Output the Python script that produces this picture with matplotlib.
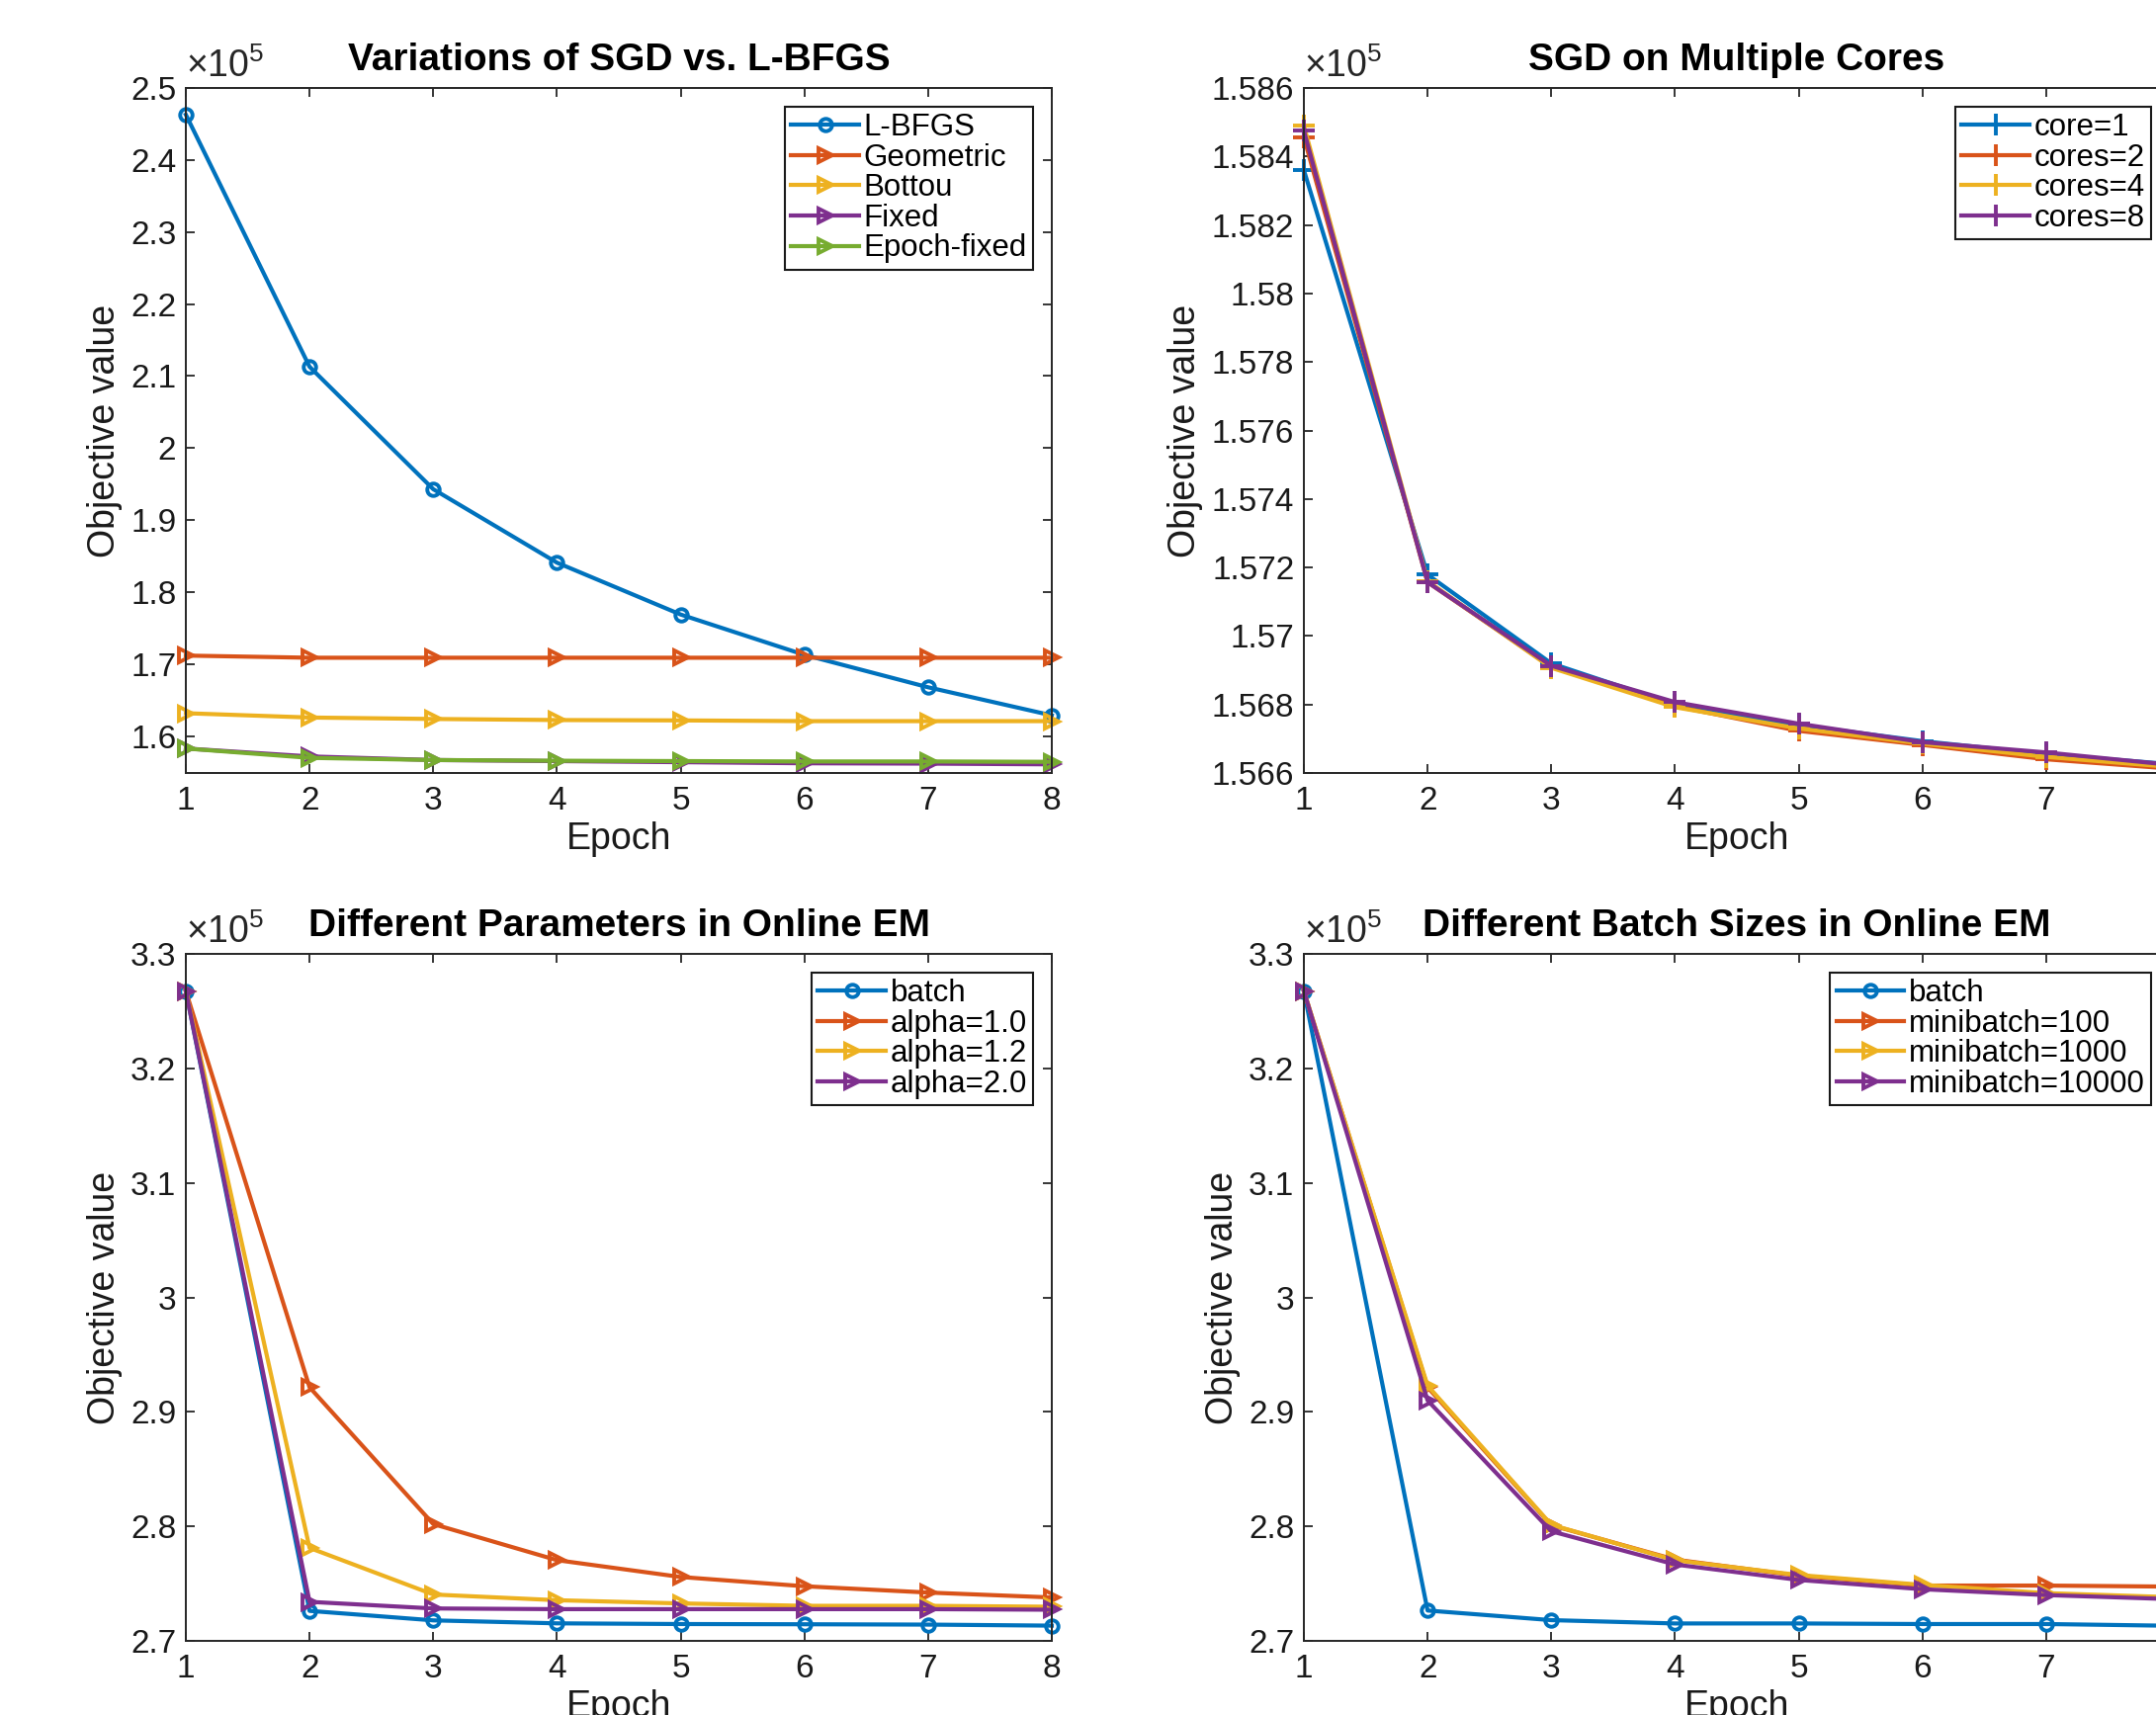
import numpy as np
import matplotlib
matplotlib.use("Agg")
import matplotlib.pyplot as plt
from matplotlib.ticker import FuncFormatter

plt.rcParams["font.family"] = ["Liberation Sans", "DejaVu Sans"]
plt.rcParams["mathtext.fontset"] = "custom"
plt.rcParams["mathtext.rm"] = "Liberation Sans"

W, H, DPI = 2181, 1735, 100

BLUE, RED, YELLOW, PURPLE, GREEN = "#0072BD", "#D95319", "#EDB120", "#7E2F8E", "#77AC30"
AX_COL = "#262626"

EPOCHS = np.arange(1, 9)

# objective values, in units of 1e5
# panel 1: variations of SGD vs L-BFGS
LBFGS = [2.463, 2.113, 1.943, 1.841, 1.769, 1.713, 1.668, 1.629]
GEOMETRIC = [1.712, 1.709, 1.709, 1.709, 1.709, 1.709, 1.709, 1.709]
BOTTOU = [1.632, 1.626, 1.624, 1.6225, 1.622, 1.621, 1.621, 1.621]
FIXED = [1.583, 1.572, 1.567, 1.5655, 1.564, 1.5625, 1.562, 1.561]
EPOCH_FIXED = [1.583, 1.570, 1.567, 1.566, 1.5655, 1.565, 1.565, 1.5645]

# panel 2: SGD on multiple cores
CORE1 = [1.5836, 1.57179, 1.5692, 1.5680, 1.5674, 1.56693, 1.56655, 1.56626]
CORES2 = [1.58456, 1.57157, 1.5691, 1.56795, 1.56723, 1.56682, 1.5664, 1.56613]
CORES4 = [1.5849, 1.5716, 1.56907, 1.56792, 1.5673, 1.56686, 1.56647, 1.56618]
CORES8 = [1.58475, 1.57157, 1.56913, 1.56807, 1.56744, 1.5669, 1.5666, 1.56624]

# panel 3: different parameters in online EM
BATCH = [3.2675, 2.7262, 2.7179, 2.7153, 2.7147, 2.7145, 2.7142, 2.7133]
ALPHA10 = [3.2675, 2.9215, 2.802, 2.7705, 2.7558, 2.7477, 2.7422, 2.7379]
ALPHA12 = [3.2675, 2.7812, 2.7405, 2.7355, 2.7327, 2.7306, 2.7306, 2.7298]
ALPHA20 = [3.2675, 2.7341, 2.7283, 2.7277, 2.7277, 2.7277, 2.7277, 2.7272]

# panel 4: different batch sizes in online EM
BATCH_B = [3.2675, 2.7265, 2.7181, 2.7152, 2.7152, 2.7147, 2.7147, 2.7132]
MB100 = [3.2675, 2.9215, 2.801, 2.7710, 2.7569, 2.7483, 2.7483, 2.7474]
MB1000 = [3.2675, 2.9229, 2.8014, 2.7704, 2.7575, 2.7489, 2.7417, 2.7382]
MB10000 = [3.2675, 2.910, 2.7957, 2.7667, 2.7532, 2.7451, 2.7400, 2.7365]

MARK = {"o": 9, ">": 10.5, "+": 16}


def px_axes(fig, x0, y0, x1, y1):
    return fig.add_axes([x0 / W, 1 - y1 / H, (x1 - x0) / W, (y1 - y0) / H])


def style(ax, title, ylim, yticks, cut_last=False):
    ax.set_xlim(1, 8)
    ax.set_ylim(*ylim)
    ax.set_xticks(EPOCHS)
    # the right-hand panels run past the figure edge, so their "8" is not seen
    ax.set_xticklabels([str(e) if not (cut_last and e == 8) else "" for e in EPOCHS])
    ax.set_yticks(yticks)
    ax.yaxis.set_major_formatter(FuncFormatter(lambda v, p: f"{round(v, 6):g}"))
    ax.tick_params(direction="in", length=6.5, width=1.3, top=True, right=True,
                   labelsize=24, colors=AX_COL, labelcolor="#1a1a1a", pad=7)
    ax.tick_params(axis="x", pad=9)
    for s in ax.spines.values():
        s.set_linewidth(1.4)
        s.set_color(AX_COL)
    ax.set_title(title, fontsize=28, fontweight="bold", pad=13)
    ax.set_xlabel("Epoch", fontsize=27, color="#1a1a1a", labelpad=4)
    ax.set_ylabel("Objective value", fontsize=27, color="#1a1a1a", labelpad=6)
    ax.text(0.0, 1.004, r"$\times\mathregular{10^{5}}$", transform=ax.transAxes,
            fontsize=27, color=AX_COL, ha="left", va="bottom")


def series(ax, ys, color, marker, label):
    ax.plot(EPOCHS, ys, color=color, lw=3, marker=marker, ms=MARK[marker],
            mfc="none", mew=2.8, label=label, clip_on=False)


def legend(ax):
    leg = ax.legend(loc="upper right", fontsize=22.5, fancybox=False, framealpha=1,
                    edgecolor="#1a1a1a", borderaxespad=0.6, handlelength=2.2,
                    handletextpad=0.15, labelspacing=0.02, borderpad=0.2)
    leg.get_frame().set_linewidth(1.5)


fig = plt.figure(figsize=(W / DPI, H / DPI), dpi=DPI)

ax1 = px_axes(fig, 188, 89, 1064, 782)
series(ax1, LBFGS, BLUE, "o", "L-BFGS")
series(ax1, GEOMETRIC, RED, ">", "Geometric")
series(ax1, BOTTOU, YELLOW, ">", "Bottou")
series(ax1, FIXED, PURPLE, ">", "Fixed")
series(ax1, EPOCH_FIXED, GREEN, ">", "Epoch-fixed")
style(ax1, "Variations of SGD vs. L-BFGS", (1.549, 2.5), np.arange(1.6, 2.51, 0.1))
legend(ax1)

ax2 = px_axes(fig, 1319, 89, 2195, 782)
series(ax2, CORE1, BLUE, "+", "core=1")
series(ax2, CORES2, RED, "+", "cores=2")
series(ax2, CORES4, YELLOW, "+", "cores=4")
series(ax2, CORES8, PURPLE, "+", "cores=8")
style(ax2, "SGD on Multiple Cores", (1.566, 1.586), np.arange(1.566, 1.5861, 0.002), cut_last=True)
legend(ax2)

ax3 = px_axes(fig, 188, 965, 1064, 1660)
series(ax3, BATCH, BLUE, "o", "batch")
series(ax3, ALPHA10, RED, ">", "alpha=1.0")
series(ax3, ALPHA12, YELLOW, ">", "alpha=1.2")
series(ax3, ALPHA20, PURPLE, ">", "alpha=2.0")
style(ax3, "Different Parameters in Online EM", (2.7, 3.3), np.arange(2.7, 3.31, 0.1))
legend(ax3)

ax4 = px_axes(fig, 1319, 965, 2195, 1660)
series(ax4, BATCH_B, BLUE, "o", "batch")
series(ax4, MB100, RED, ">", "minibatch=100")
series(ax4, MB1000, YELLOW, ">", "minibatch=1000")
series(ax4, MB10000, PURPLE, ">", "minibatch=10000")
style(ax4, "Different Batch Sizes in Online EM", (2.7, 3.3), np.arange(2.7, 3.31, 0.1), cut_last=True)
legend(ax4)

fig.savefig("out.png", dpi=DPI, facecolor="white")
